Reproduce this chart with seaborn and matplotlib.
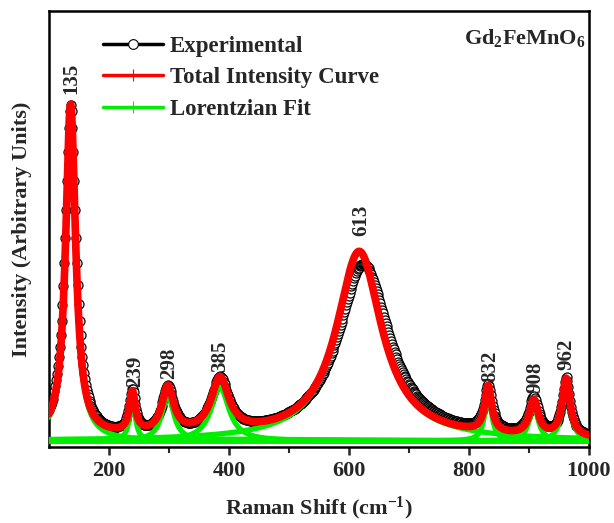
import numpy as np
import pandas as pd
import matplotlib
matplotlib.use("Agg")
import matplotlib.pyplot as plt
from matplotlib.lines import Line2D
import seaborn as sns

# ---- data (peak parameters) ----
peak_labels = [135, 239, 298, 385, 613, 832, 908, 962]
label_x = [138, 243, 300, 385, 620, 835, 910, 963]
label_tops = [341, 48, 56, 63, 199, 53, 42, 65]  # top of total curve at each label

# Lorentzian fit components: centre, height, half-width
fit_centers = [136, 239, 298, 385, 617, 832, 908, 962, 300]
fit_heights = [333, 40, 46, 54, 188, 46, 35, 58, 2]
fit_widths = [10.0, 6, 12, 18, 46, 7, 9, 8, 320]

# experimental profile parameters
exp_centers = [136, 239, 298, 385, 624, 832, 908, 962, 300]
exp_heights = [333, 42, 46, 54, 176, 45, 37, 58, 1]
exp_widths = [11.0, 6.5, 12, 18, 52, 8, 10, 8, 320]

x_range = [100, 1000]
x_ticks = [200, 400, 600, 800, 1000]

# ---- build curves ----
x = np.arange(100, 1001, 1.0)
xe = np.arange(100, 1001, 1.5)


def lor(xx, c, h, w):
    return h / (1 + ((xx - c) / w) ** 2)


comps = [lor(x, c, h, w) for c, h, w in zip(fit_centers, fit_heights, fit_widths)]
total = np.sum(comps, axis=0)
expv = np.sum([lor(xe, c, h, w) for c, h, w in zip(exp_centers, exp_heights, exp_widths)], axis=0)

sns.set_style("ticks")
plt.rcParams["font.family"] = ["Liberation Serif", "DejaVu Serif"]
plt.rcParams["font.weight"] = "bold"
plt.rcParams["mathtext.fontset"] = "custom"
plt.rcParams["mathtext.rm"] = "Liberation Serif:bold"
plt.rcParams["mathtext.bf"] = "Liberation Serif:bold"
plt.rcParams["mathtext.it"] = "Liberation Serif:bold"

fig = plt.figure(figsize=(6.14, 5.23), dpi=100)
ax = fig.add_axes([49 / 614, 1 - 447 / 523, 540 / 614, 436 / 523])

df_exp = pd.DataFrame({"x": xe, "y": expv})
sns.lineplot(data=df_exp, x="x", y="y", ax=ax, color="black", lw=2.5, marker="o",
             markersize=6.5, markerfacecolor="white", markeredgecolor="black",
             markeredgewidth=0.9, zorder=2)

for comp in comps:
    sns.lineplot(x=x, y=comp, ax=ax, color="#00ee00", lw=3.8, zorder=3)

sns.lineplot(x=x, y=total, ax=ax, color="#ff0000", lw=5.5, zorder=4)

for lab, lx, top in zip(peak_labels, label_x, label_tops):
    ax.text(lx, top + 6, str(lab), rotation=90, ha="center", va="bottom",
            fontsize=15, fontweight="bold", zorder=6)

ax.text(0.993, 0.925, r"Gd$_2$FeMnO$_6$", transform=ax.transAxes, ha="right", va="baseline",
        fontsize=16, fontweight="bold")

ax.set_xlim(*x_range)
ax.set_ylim(-6, 430)
ax.set_xticks(x_ticks)
ax.set_xticklabels([str(t) for t in x_ticks], fontsize=16, fontweight="bold")
ax.set_xticks([300, 500, 700, 900], minor=True)
ax.set_yticks([])
ax.tick_params(axis="x", which="major", direction="out", length=6, width=1.8, pad=4)
ax.tick_params(axis="x", which="minor", direction="out", length=4, width=1.5)
for s in ax.spines.values():
    s.set_linewidth(1.8)
    s.set_color("black")

ax.set_xlabel(r"Raman Shift (cm$^{-1}$)", fontsize=16, fontweight="bold", labelpad=10)
ax.set_ylabel("Intensity (Arbitrary Units)", fontsize=16, fontweight="bold", labelpad=12)

handles = [
    Line2D([], [], color="black", lw=2.5, marker="o", markersize=7,
           markerfacecolor="white", markeredgecolor="black", markeredgewidth=0.8),
    Line2D([], [], color="#ff0000", lw=2.5, marker="|", markersize=8, markeredgewidth=0.8),
    Line2D([], [], color="#00ee00", lw=2.5, marker="|", markersize=8, markeredgewidth=0.8),
]
ax.legend(handles, ["Experimental", "Total Intensity Curve", "Lorentzian Fit"],
          loc="upper left", bbox_to_anchor=(0.062, 0.99), frameon=False,
          prop={"size": 16.5, "weight": "bold"}, handlelength=2.6, labelspacing=0.45,
          handletextpad=0.3)

fig.savefig("out.png", dpi=100)
